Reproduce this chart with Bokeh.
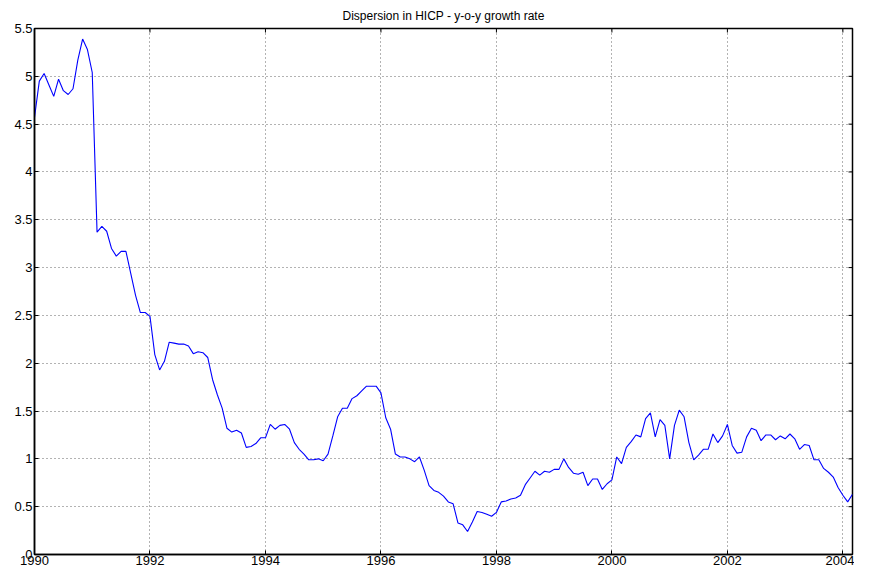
from bokeh.plotting import figure
from bokeh.models import Range1d, FixedTicker
from bokeh.embed import file_html
from bokeh.resources import INLINE
import numpy as np

title_text = "Dispersion in HICP - y-o-y growth rate"
start_year = 1990  # monthly observations starting January 1990

dispersion = [
    4.57, 4.95, 5.03, 4.91, 4.79, 4.97, 4.85, 4.81, 4.87, 5.17, 5.39, 5.28,
    5.04, 3.37, 3.43, 3.38, 3.20, 3.12, 3.17, 3.17, 2.94, 2.71, 2.53, 2.53,
    2.49, 2.09, 1.93, 2.02, 2.22, 2.21, 2.20, 2.20, 2.18, 2.10, 2.12, 2.11,
    2.06, 1.83, 1.67, 1.53, 1.32, 1.28, 1.30, 1.27, 1.12, 1.13, 1.16, 1.22,
    1.22, 1.36, 1.31, 1.35, 1.36, 1.31, 1.17, 1.10, 1.05, 0.99, 0.99, 1.00,
    0.98, 1.05, 1.24, 1.44, 1.53, 1.53, 1.63, 1.66, 1.71, 1.76, 1.76, 1.76,
    1.69, 1.43, 1.31, 1.05, 1.02, 1.02, 1.00, 0.97, 1.02, 0.88, 0.72, 0.67,
    0.65, 0.61, 0.55, 0.53, 0.33, 0.31, 0.24, 0.34, 0.45, 0.44, 0.42, 0.40,
    0.44, 0.55, 0.56, 0.58, 0.59, 0.62, 0.73, 0.80, 0.87, 0.83, 0.87, 0.86,
    0.89, 0.89, 1.00, 0.91, 0.85, 0.84, 0.86, 0.72, 0.79, 0.79, 0.68, 0.74,
    0.78, 1.02, 0.95, 1.12, 1.18, 1.25, 1.23, 1.42, 1.48, 1.23, 1.41, 1.35,
    1.00, 1.35, 1.51, 1.44, 1.17, 0.99, 1.04, 1.10, 1.10, 1.26, 1.17, 1.24,
    1.36, 1.14, 1.06, 1.07, 1.23, 1.32, 1.30, 1.19, 1.25, 1.25, 1.20, 1.24,
    1.21, 1.26, 1.21, 1.10, 1.15, 1.14, 0.99, 0.99, 0.90, 0.86, 0.81, 0.70,
    0.62, 0.55, 0.63,
]

x_ticks = [1990, 1992, 1994, 1996, 1998, 2000, 2002, 2004]
x_tick_labels = ["1990", "1992", "1994", "1996", "1998", "2000", "2002", "2004"]
y_ticks = [0, 0.5, 1, 1.5, 2, 2.5, 3, 3.5, 4, 4.5, 5, 5.5]
y_tick_labels = ["0", "0.5", "1", "1.5", "2", "2.5", "3", "3.5", "4", "4.5", "5", "5.5"]

dates = start_year + np.arange(len(dispersion)) / 12.0

FONT = "Liberation Sans"

p = figure(
    width=854, height=567,
    output_backend="svg", toolbar_location=None,
    x_range=Range1d(start_year, dates[-1]),
    y_range=Range1d(y_ticks[0], y_ticks[-1]),
    min_border_left=34, min_border_right=2,
    min_border_bottom=0, min_border_top=28,
)

p.title.text = title_text
p.title.align = "center"
p.title.text_font = FONT
p.title.text_font_size = "12px"
p.title.text_font_style = "normal"
p.title.text_color = "#000000"
p.title.standoff = 12

p.background_fill_color = "white"
p.border_fill_color = "white"
p.outline_line_color = "#000000"
p.outline_line_width = 1.5

def style_axis(ax, ticks, labels):
    ax.ticker = FixedTicker(ticks=ticks)
    ax.major_label_overrides = {t: l for t, l in zip(ticks, labels)}
    ax.major_tick_in = 4
    ax.major_tick_out = 0
    ax.minor_tick_line_color = None
    ax.axis_line_color = "#000000"
    ax.axis_line_width = 1.5
    ax.major_tick_line_color = "#000000"
    ax.major_label_text_font = FONT
    ax.major_label_text_color = "#000000"
    ax.major_label_text_font_size = "13px"
    ax.major_label_standoff = 2

style_axis(p.xaxis[0], x_ticks, x_tick_labels)
style_axis(p.yaxis[0], y_ticks, y_tick_labels)
p.xaxis[0].major_label_standoff = 1

p.xgrid[0].ticker = FixedTicker(ticks=x_ticks)
p.ygrid[0].ticker = FixedTicker(ticks=y_ticks)
for g in (p.xgrid[0], p.ygrid[0]):
    g.grid_line_color = "#000000"
    g.grid_line_alpha = 0.6
    g.grid_line_dash = "1 3"
    g.grid_line_width = 1

# inward tick marks on the top and right edges of the box (clipped to the frame)
p.scatter(x_ticks, [y_ticks[-1]] * len(x_ticks), marker="dash", size=8,
          angle=np.pi / 2, line_color="#000000", line_width=1)
p.scatter([dates[-1]] * len(y_ticks), y_ticks, marker="dash", size=8,
          line_color="#000000", line_width=1)

p.line(dates, dispersion, line_color="#0000ff", line_width=1.1)

open("out.html", "w").write(file_html(p, INLINE))
